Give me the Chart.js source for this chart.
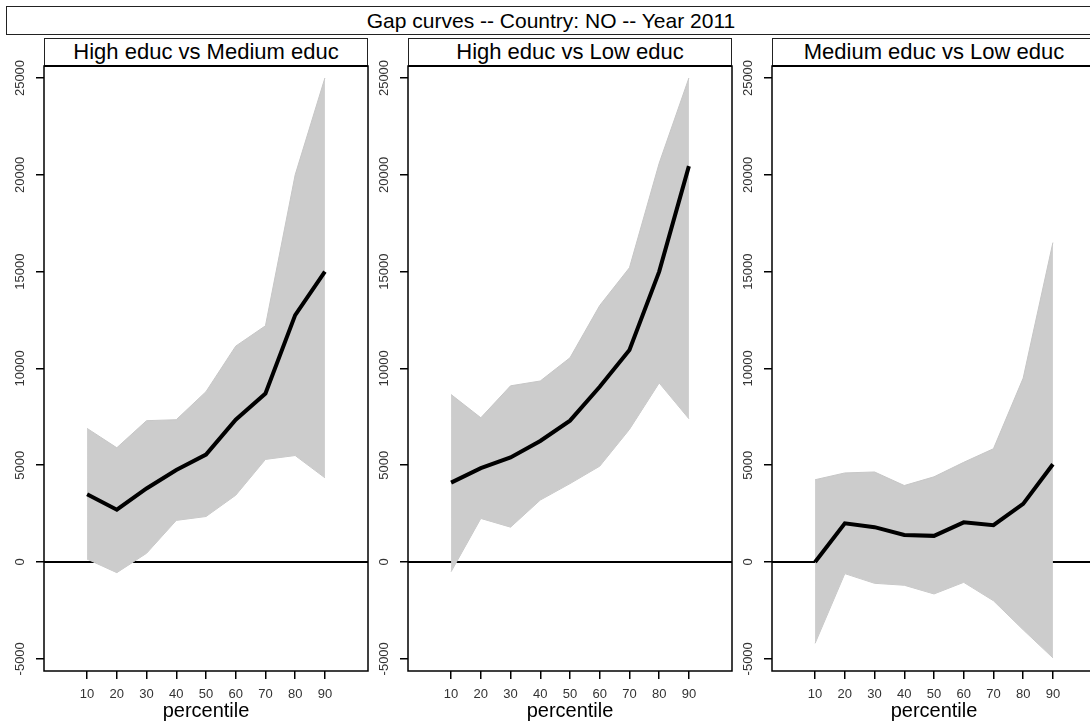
<!DOCTYPE html>
<html>
<head>
<meta charset="utf-8">
<script src="https://cdn.jsdelivr.net/npm/chart.js@4"></script>
<style>
  body { margin: 0; background: #fff; width: 1090px; height: 726px; overflow: hidden; position: relative;
         font-family: "Liberation Sans", Arial, sans-serif; }
  .box { position: absolute; box-sizing: border-box; border: 1px solid #222; text-align: center; color: #000; background: #fff; }
  #title { left: 6px; top: 6px; width: 1090px; height: 29px; font-size: 21px; line-height: 27px; }
  .strip { top: 38px; height: 29px; width: 324px; border-bottom: 2px solid #000; font-size: 22px; line-height: 26px; }
  canvas { position: absolute; }
</style>
</head>
<body>
<div id="title" class="box">Gap curves -- Country: NO -- Year 2011</div>
<script>
const percentiles = [10, 20, 30, 40, 50, 60, 70, 80, 90];
const yTicks = [-5000, 0, 5000, 10000, 15000, 20000, 25000];
const panelTitles = ['High educ vs Medium educ', 'High educ vs Low educ', 'Medium educ vs Low educ'];

// High vs Medium
const gapHighMed   = [3500, 2700, 3800, 4750, 5550, 7350, 8700, 12750, 15000];
const upperHighMed = [6900, 5900, 7300, 7350, 8800, 11150, 12200, 20000, 25000];
const lowerHighMed = [150, -550, 450, 2150, 2350, 3450, 5300, 5500, 4350];

// High vs Low
const gapHighLow   = [4100, 4850, 5400, 6250, 7300, 9050, 10950, 15000, 20450];
const upperHighLow = [8650, 7450, 9100, 9350, 10550, 13250, 15200, 20600, 25000];
const lowerHighLow = [-500, 2250, 1800, 3200, 4050, 4950, 6850, 9250, 7400];

// Medium vs Low
const gapMedLow   = [0, 2000, 1800, 1400, 1350, 2050, 1900, 3000, 5050];
const upperMedLow = [4250, 4600, 4650, 3950, 4400, 5150, 5850, 9500, 16500];
const lowerMedLow = [-4200, -600, -1100, -1200, -1650, -1050, -2000, -3500, -4950];

const panels = [
  { gap: gapHighMed, upper: upperHighMed, lower: lowerHighMed },
  { gap: gapHighLow, upper: upperHighLow, lower: lowerHighLow },
  { gap: gapMedLow,  upper: upperMedLow,  lower: lowerMedLow }
];
const plotLefts = [44, 408, 772];

const pts = arr => arr.map((v, i) => ({ x: percentiles[i], y: v }));

const zeroLine = {
  id: 'zeroLine',
  beforeDatasetsDraw(chart) {
    const { ctx, chartArea: a, scales } = chart;
    const y = scales.y.getPixelForValue(0);
    ctx.save();
    ctx.strokeStyle = '#000';
    ctx.lineWidth = 2;
    ctx.beginPath();
    ctx.moveTo(a.left, y);
    ctx.lineTo(a.right, y);
    ctx.stroke();
    ctx.restore();
  }
};

const frame = {
  id: 'frame',
  afterDraw(chart) {
    const { ctx, chartArea: a } = chart;
    ctx.save();
    ctx.strokeStyle = '#000';
    ctx.lineWidth = 1.5;
    ctx.strokeRect(a.left, a.top, a.right - a.left, a.bottom - a.top);
    ctx.restore();
  }
};

panels.forEach((p, i) => {
  const strip = document.createElement('div');
  strip.className = 'box strip';
  strip.style.left = plotLefts[i] + 'px';
  strip.textContent = panelTitles[i];
  document.body.appendChild(strip);

  const cv = document.createElement('canvas');
  cv.width = 372;
  cv.height = 666;
  cv.style.left = (plotLefts[i] - 44) + 'px';
  cv.style.top = '60px';
  document.body.appendChild(cv);

  new Chart(cv, {
    type: 'line',
    data: {
      datasets: [
        { data: pts(p.gap), borderColor: '#000', borderWidth: 4, pointRadius: 0, fill: false },
        { data: pts(p.upper), borderColor: '#c6c6c6', borderWidth: 1, pointRadius: 0,
          fill: '+1', backgroundColor: '#cccccc' },
        { data: pts(p.lower), borderColor: '#c6c6c6', borderWidth: 1, pointRadius: 0, fill: false }
      ]
    },
    options: {
      responsive: false,
      animation: false,
      layout: { padding: { left: 0, right: 4, top: 6, bottom: 0 } },
      plugins: { legend: { display: false }, tooltip: { enabled: false } },
      scales: {
        x: {
          type: 'linear', min: -4.5, max: 104.5,
          afterBuildTicks: ax => { ax.ticks = percentiles.map(v => ({ value: v })); },
          afterFit: ax => { ax.height = 55; },
          grid: { drawOnChartArea: false, tickLength: 8, color: '#000', lineWidth: 1.5 },
          border: { display: false },
          ticks: { font: { size: 13 }, color: '#333', padding: 8, maxRotation: 0, autoSkip: false },
          title: { display: true, text: 'percentile', font: { size: 20 }, color: '#000',
                   padding: { top: 0, bottom: 3 } }
        },
        y: {
          min: -5630, max: 25620,
          afterBuildTicks: ax => { ax.ticks = yTicks.map(v => ({ value: v })); },
          afterFit: ax => { ax.width = 44; },
          grid: { drawOnChartArea: false, tickLength: 8, color: '#000', lineWidth: 1.5 },
          border: { display: false },
          ticks: { font: { size: 13 }, color: '#333', minRotation: 90, maxRotation: 90,
                   crossAlign: 'center', padding: -2, autoSkip: false, callback: v => String(v) }
        }
      }
    },
    plugins: [zeroLine, frame]
  });
});
</script>
</body>
</html>
